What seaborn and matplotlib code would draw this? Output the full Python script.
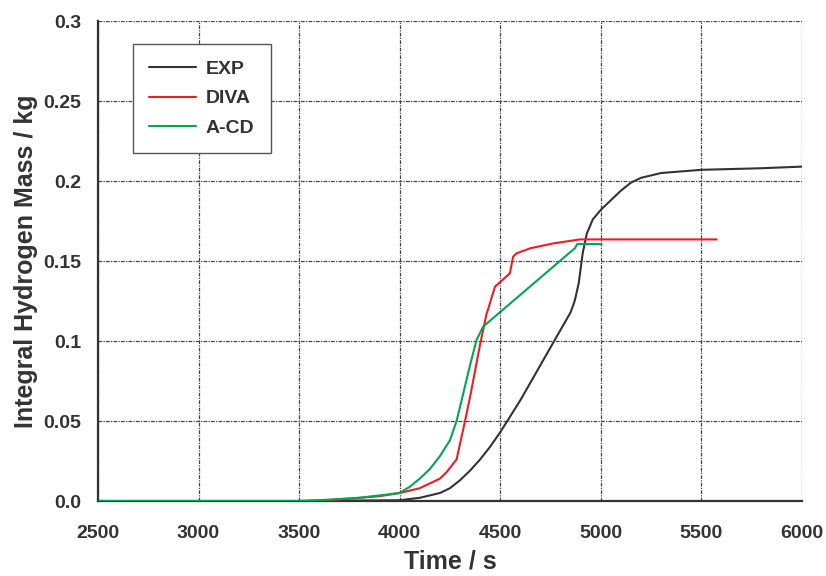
import numpy as np
import pandas as pd
import matplotlib
matplotlib.use("Agg")
import matplotlib.pyplot as plt
from matplotlib.ticker import MultipleLocator, FixedLocator, FixedFormatter
import seaborn as sns

# Integral hydrogen mass vs time for experiment and two code predictions
exp_time = [2500, 3500, 4000, 4100, 4200, 4250, 4300, 4350, 4400, 4450, 4500, 4550,
            4600, 4650, 4700, 4750, 4800, 4850, 4870, 4890, 4910, 4930, 4960, 5000,
            5050, 5100, 5150, 5200, 5300, 5500, 5800, 6000]
exp_mass = [0.0, 0.0, 0.0005, 0.002, 0.005, 0.008, 0.013, 0.019, 0.026, 0.034, 0.043, 0.053,
            0.063, 0.074, 0.085, 0.096, 0.107, 0.118, 0.125, 0.136, 0.155, 0.167, 0.176, 0.182,
            0.188, 0.194, 0.199, 0.202, 0.205, 0.207, 0.208, 0.209]

diva_time = [2500, 3500, 3600, 3700, 3800, 3900, 4000, 4100, 4200, 4233, 4283, 4325, 4350,
             4400, 4432, 4440, 4474, 4510, 4548, 4564, 4581, 4650, 4764, 4896, 5576]
diva_mass = [0.0, 0.0, 0.0003, 0.001, 0.002, 0.003, 0.005, 0.008, 0.014, 0.018, 0.026, 0.050, 0.065,
             0.098, 0.117, 0.120, 0.134, 0.138, 0.1423, 0.1527, 0.1548, 0.158, 0.161, 0.1635, 0.1635]

acd_time = [2500, 3500, 3600, 3800, 4000, 4051, 4100, 4150, 4200, 4250, 4283, 4308, 4350,
            4382, 4415, 4871, 4883, 5004]
acd_mass = [0.0, 0.0, 0.0005, 0.002, 0.005, 0.009, 0.014, 0.020, 0.028, 0.038, 0.050, 0.063, 0.085,
            0.1006, 0.109, 0.158, 0.1606, 0.1606]

series_names = ["EXP", "DIVA", "A-CD"]
series_colors = ["#333333", "#ee1c25", "#00a651"]

y_ticks = [0.0, 0.05, 0.1, 0.15, 0.2, 0.25, 0.3]
y_tick_labels = ["0.0", "0.05", "0.1", "0.15", "0.2", "0.25", "0.3"]
x_ticks = [2500, 3000, 3500, 4000, 4500, 5000, 5500, 6000]

frames = []
for name, t, m in zip(series_names, [exp_time, diva_time, acd_time],
                      [exp_mass, diva_mass, acd_mass]):
    frames.append(pd.DataFrame({"Time": t, "Mass": m, "Case": name}))
df = pd.concat(frames, ignore_index=True)

sns.set_style("white")
plt.rcParams["font.family"] = ["Liberation Sans", "DejaVu Sans"]
text_color = "#333333"

fig = plt.figure(figsize=(8.26, 5.76), dpi=100)
ax = fig.add_axes([0.1186, 0.1302, 0.8523, 0.8333])

sns.lineplot(data=df, x="Time", y="Mass", hue="Case", hue_order=series_names,
             palette=dict(zip(series_names, series_colors)), sort=False,
             estimator=None, linewidth=1.5, ax=ax, zorder=3)

ax.set_xlim(2500, 6000)
ax.set_ylim(0, 0.3)
ax.xaxis.set_major_locator(FixedLocator(x_ticks))
ax.xaxis.set_minor_locator(MultipleLocator(250))
ax.yaxis.set_major_locator(FixedLocator(y_ticks))
ax.yaxis.set_major_formatter(FixedFormatter(y_tick_labels))
ax.yaxis.set_minor_locator(MultipleLocator(0.025))

ax.grid(True, which="major", color="#444444", linewidth=0.9,
        linestyle=(0, (3, 1, 1, 1)), zorder=1)
ax.set_axisbelow(True)

for side in ["top", "right"]:
    ax.spines[side].set_visible(False)
for side in ["left", "bottom"]:
    ax.spines[side].set_color(text_color)
    ax.spines[side].set_linewidth(1.6)

ax.tick_params(axis="x", which="major", direction="out", length=9, width=1.0,
               color="#555555", labelsize=14, labelcolor=text_color, pad=8)
ax.tick_params(axis="x", which="minor", direction="out", length=5, width=1.0,
               color="#555555")
ax.tick_params(axis="y", which="major", direction="out", length=8.5, width=1.0,
               color="#555555", labelsize=14, labelcolor=text_color, pad=3.5)
ax.tick_params(axis="y", which="minor", direction="out", length=4.5, width=1.0,
               color="#555555")
for lab in ax.get_xticklabels() + ax.get_yticklabels():
    lab.set_fontweight("bold")

ax.set_xlabel("Time / s", fontsize=18, fontweight="bold", color=text_color, labelpad=6)
ax.set_ylabel("Integral Hydrogen Mass / kg", fontsize=18, fontweight="bold",
              color=text_color, labelpad=4)

leg = ax.legend(loc="upper left", bbox_to_anchor=(0.0497, 0.952),
                prop={"size": 14, "weight": "bold"},
                frameon=True, fancybox=False, edgecolor="#555555", framealpha=1,
                handlelength=2.4, handletextpad=0.5, borderpad=0.85,
                labelspacing=0.6, borderaxespad=0)
leg.get_frame().set_linewidth(1.0)
for txt in leg.get_texts():
    txt.set_color(text_color)
for line in leg.get_lines():
    line.set_linewidth(1.5)

fig.savefig("out.png", dpi=100)
